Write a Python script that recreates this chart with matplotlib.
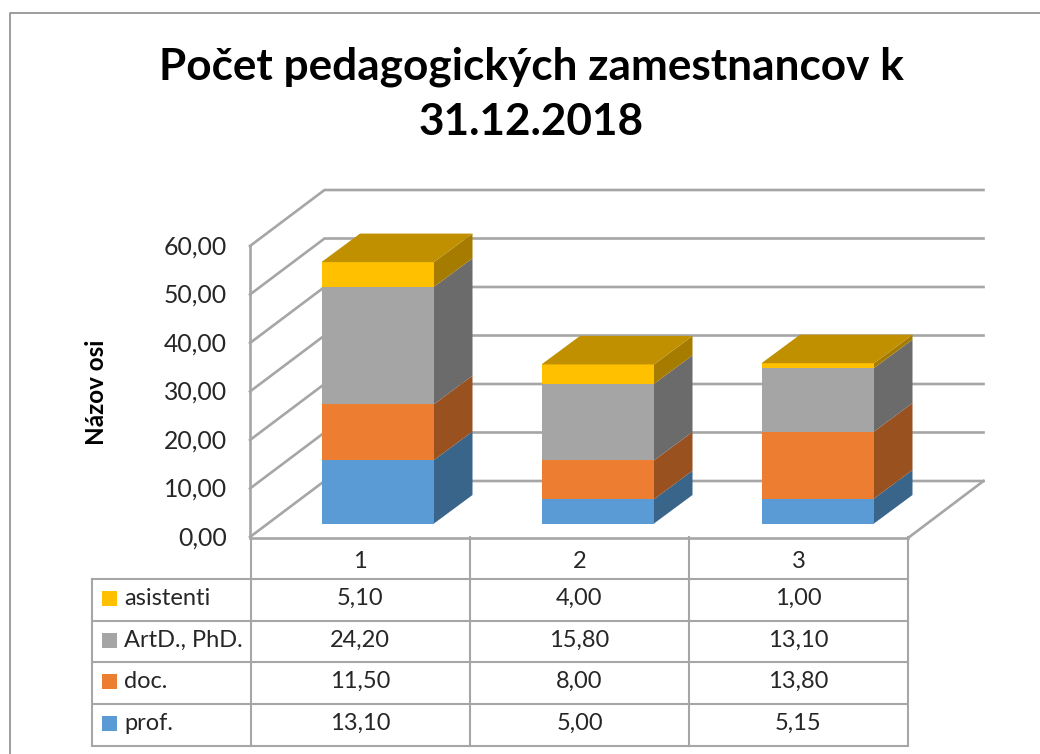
import matplotlib
matplotlib.use("Agg")
import matplotlib.pyplot as plt
from matplotlib.patches import Polygon, Rectangle

plt.rcParams['font.family'] = ['Lato', 'DejaVu Sans']

TITLE_LINES = ["Počet pedagogických zamestnancov k", "31.12.2018"]
AXIS_TITLE = "Názov osi"
categories = ["1", "2", "3"]
series_names = ["prof.", "doc.", "ArtD., PhD.", "asistenti"]
prof = [13.10, 5.00, 5.15]
doc = [11.50, 8.00, 13.80]
phd = [24.20, 15.80, 13.10]
asistenti = [5.10, 4.00, 1.00]
y_ticks = [0, 10, 20, 30, 40, 50, 60]

series = [prof, doc, phd, asistenti]
front_cols = ['#5B9BD5', '#ED7D31', '#A5A5A5', '#FFC000']
side_cols = ['#3A658B', '#9A5120', '#6B6B6B', '#A67C00']
top_cols = ['#4A7EAD', '#C06528', '#868686', '#C09000']
GRID = '#A6A6A6'
TXT = '#262626'

fig = plt.figure(figsize=(10.4, 7.54), dpi=100)
ax = fig.add_axes([0, 0, 1, 1])
ax.set_xlim(0, 1040)
ax.set_ylim(754, 0)
ax.axis('off')

def fmt(v):
    return f"{v:.2f}".replace('.', ',')

# frame (cropped at right and bottom)
ax.plot([9.5, 9.5, 1040], [754, 12.5, 12.5], color='#8C8C8C', lw=1.2)

# title
ax.text(531, 67, TITLE_LINES[0], ha='center', va='center', fontsize=31.8, fontweight='bold', color='black')
ax.text(531, 122, TITLE_LINES[1], ha='center', va='center', fontsize=31.8, fontweight='bold', color='black')
ax.text(97, 392, AXIS_TITLE, rotation=90, ha='center', va='center', fontsize=17.5,
        fontweight='bold', color='black')

# walls and gridlines
X0, Y0, STEP = 250, 537, 4.85
DX, DY = 74.5, -56
XR = 908
for t in y_ticks:
    yf = Y0 - t * STEP
    ax.plot([X0, X0 + DX, XR + DX + 1], [yf, yf + DY, yf + DY], color=GRID, lw=1.9,
            solid_joinstyle='miter', zorder=1)
    ax.text(227, yf + 1, fmt(t), ha='right', va='center', fontsize=17.8, color=TXT)
ax.plot([X0, X0], [Y0, Y0 - 60 * STEP], color=GRID, lw=1.9, zorder=1)
ax.plot([XR, XR + DX + 1], [Y0 + 1, Y0 + DY], color=GRID, lw=1.9, zorder=1)

# bars
BAR_X = [321.5, 541.5, 761.5]
BW, BDX, BDY, BASE = 112.5, 38.5, -28.5, 523.5
for i, bx in enumerate(BAR_X):
    cum = 0
    for s, vals in enumerate(series):
        v = vals[i]
        y1 = BASE - cum * STEP
        y2 = BASE - (cum + v) * STEP
        ax.add_patch(Rectangle((bx, y2), BW, y1 - y2, fc=front_cols[s], ec='none', zorder=3))
        ax.add_patch(Polygon([(bx + BW, y1), (bx + BW + BDX, y1 + BDY),
                              (bx + BW + BDX, y2 + BDY), (bx + BW, y2)],
                             fc=side_cols[s], ec='none', zorder=3))
        cum += v
    ytop = BASE - cum * STEP
    ax.add_patch(Polygon([(bx, ytop), (bx + BW, ytop), (bx + BW + BDX, ytop + BDY),
                          (bx + BDX, ytop + BDY)], fc=top_cols[-1], ec='none', zorder=3))

# data table
COLS = [250.5, 470, 689, 908]
ROWS = [579, 620.5, 662, 703.5, 745.5]
LEFT = 92
LW = 1.5
for r in ROWS:
    ax.plot([LEFT, XR], [r, r], color=GRID, lw=LW, zorder=2)
ax.plot([LEFT, LEFT], [ROWS[0], ROWS[-1]], color=GRID, lw=LW, zorder=2)
for c in COLS:
    ax.plot([c, c], [Y0, ROWS[-1]], color=GRID, lw=LW, zorder=2)
ax.plot([X0, XR], [Y0 + 1, Y0 + 1], color=GRID, lw=1.9, zorder=2)

for j, name in enumerate(categories):
    cx = (COLS[j] + COLS[j + 1]) / 2
    ax.text(cx, 562, name, ha='center', va='center', fontsize=17, color=TXT)
for row, s in enumerate(reversed(range(4))):
    yc = (ROWS[row] + ROWS[row + 1]) / 2 - 1
    ax.add_patch(Rectangle((101.5, yc - 7.5), 15, 15, fc=front_cols[s], ec='none', zorder=3))
    ax.text(124, yc, series_names[s], ha='left', va='center', fontsize=17, color=TXT)
    for j in range(3):
        cx = (COLS[j] + COLS[j + 1]) / 2
        ax.text(cx, yc, fmt(series[s][j]), ha='center', va='center', fontsize=17, color=TXT)

fig.savefig('out.png', dpi=100, facecolor='white')
